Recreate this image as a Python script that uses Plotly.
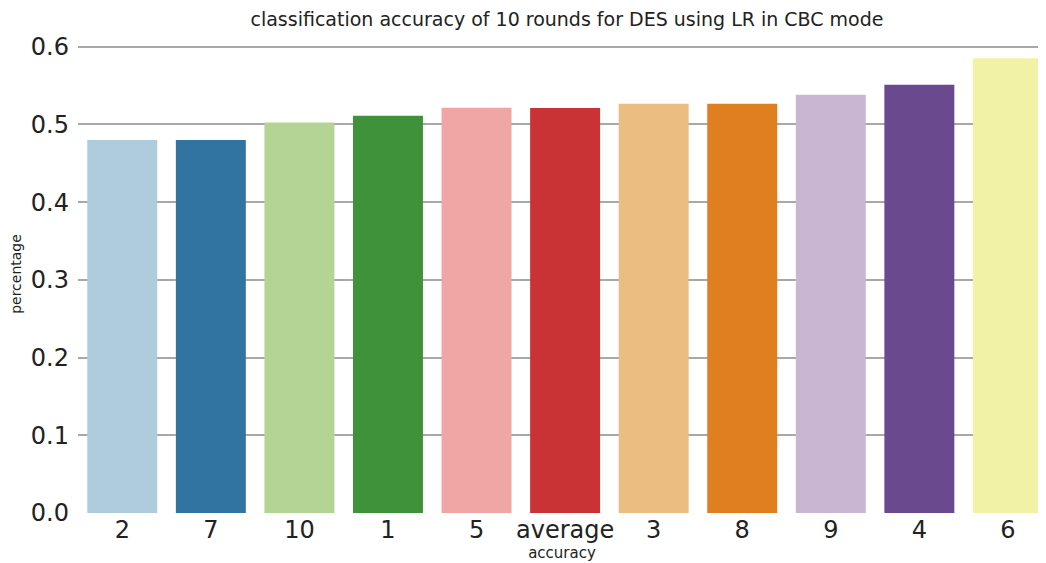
'''
    Bar chart of classification accuracy per round (DES, LR, CBC mode).
'''
import colorsys
import plotly.graph_objects as go

rounds = ['2', '7', '10', '1', '5', 'average', '3', '8', '9', '4', '6']
accuracy = [0.480, 0.480, 0.5025, 0.511, 0.5215, 0.521, 0.5265, 0.5265,
            0.538, 0.551, 0.585]
paired = ['#a6cee3', '#1f78b4', '#b2df8a', '#33a02c', '#fb9a99', '#e31a1c',
          '#fdbf6f', '#ff7f00', '#cab2d6', '#6a3d9a', '#ffff99']


def desaturate(hex_color, prop=0.75):
    '''
        Same idea as seaborn's desaturate: scale HLS saturation.
    '''
    r, g, b = (int(hex_color[i:i + 2], 16) / 255 for i in (1, 3, 5))
    h, l, s = colorsys.rgb_to_hls(r, g, b)
    r, g, b = colorsys.hls_to_rgb(h, l, s * prop)
    return 'rgb({},{},{})'.format(round(r * 255), round(g * 255), round(b * 255))


colors = [desaturate(c) for c in paired]

# the page puts the figure 8px in from the top-left corner
W, H = 1038, 555
L, T, B = 70, 27, 50

fig = go.Figure(go.Bar(
    x=rounds,
    y=accuracy,
    marker=dict(color=colors, line=dict(width=0)),
    width=0.79,
))

fig.update_layout(
    width=W,
    height=H,
    margin=dict(l=L, r=0, t=T, b=B),
    paper_bgcolor='white',
    plot_bgcolor='white',
    font=dict(family='DejaVu Sans', color='#222222'),
    title=dict(
        text='classification accuracy of 10 rounds for DES using LR in CBC mode',
        x=(L + (W - L) / 2 + 5) / W,
        xanchor='center',
        y=1 - 11 / H,
        yanchor='middle',
        font=dict(size=19, color='#222222'),
    ),
    showlegend=False,
    bargap=0.2,
)

fig.update_xaxes(
    type='category',
    range=[-0.5, 10.43],
    automargin=False,
    showgrid=False,
    zeroline=False,
    showline=False,
    tickfont=dict(size=24),
    ticklabelstandoff=0,
    title=dict(text='accuracy', font=dict(size=15), standoff=0),
)

fig.update_yaxes(
    range=[0, 0.615],
    automargin=False,
    tickvals=[0, 0.1, 0.2, 0.3, 0.4, 0.5, 0.6],
    ticktext=['0.0', '0.1', '0.2', '0.3', '0.4', '0.5', '0.6'],
    showgrid=False,
    zeroline=False,
    showline=False,
    tickfont=dict(size=24),
    ticklabelstandoff=8,
    minor=dict(tickvals=[0.1, 0.2, 0.3, 0.4, 0.5, 0.6], showgrid=True,
               gridcolor='#a8a8a8', gridwidth=2),
    title=dict(text='percentage', font=dict(size=14), standoff=6),
)

fig.write_html('out.html')
